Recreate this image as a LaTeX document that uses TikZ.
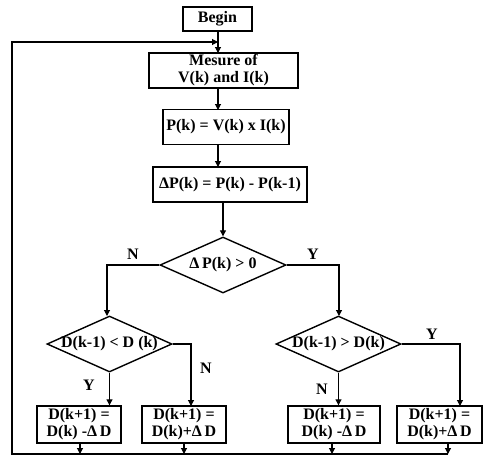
\documentclass[tikz,border=0pt]{standalone}
\usepackage{fontspec}
\setmainfont{Liberation Serif}
\usetikzlibrary{shapes.geometric,arrows.meta}
\begin{document}
\begin{tikzpicture}[x=1pt,y=-1pt,
  font=\bfseries\fontsize{16}{17}\selectfont,
  box/.style={draw,line width=1.4pt,inner sep=0pt,align=center},
  dia/.style={draw,line width=1.4pt,diamond,inner sep=0pt},
  conn/.style={line width=1.1pt,-{Triangle[length=6pt,width=6pt]}},
  lbl/.style={inner sep=0pt}]
\useasboundingbox (0,0) rectangle (492,461);
\node[box,minimum width=69pt,minimum height=24pt] (begin) at (217.5,19) {Begin};
\node[box,minimum width=149pt,minimum height=35pt] (mes) at (223.5,70.5) {Mesure of\\V(k) and I(k)};
\node[box,minimum width=126pt,minimum height=35pt] (p) at (226,127) {P(k) = V(k) x I(k)};
\node[box,minimum width=154pt,minimum height=35pt] (dp) at (230,184.5) {ΔP(k) = P(k) - P(k-1)};
\node[dia,minimum width=126pt,minimum height=56pt] (d1) at (223,265) {};
\node[lbl] (t1) at (d1) {Δ\,P(k) > 0};
\node[dia,minimum width=125pt,minimum height=56pt] (dl) at (109.5,344) {};
\node[lbl] (tl) at (dl) {D(k-1) < D (k)};
\node[dia,minimum width=125pt,minimum height=56pt] (dr) at (338.5,344) {};
\node[lbl] (tr) at (dr) {D(k-1) > D(k)};
\node[box,minimum width=84pt,minimum height=37pt] (b1) at (79,424.5) {D(k+1) =\\D(k) -Δ\,D};
\node[box,minimum width=84pt,minimum height=37pt] (b2) at (184,424.5) {D(k+1) =\\D(k)+Δ\,D};
\node[box,minimum width=92pt,minimum height=37pt] (b3) at (334,424.5) {D(k+1) =\\D(k) -Δ\,D};
\node[box,minimum width=85pt,minimum height=37pt] (b4) at (439.5,424.5) {D(k+1) =\\D(k)+Δ\,D};
% labels
\node[lbl] (ln1) at (133,254) {N};
\node[lbl] (ly1) at (313,254) {Y};
\node[lbl] (lyl) at (89,385) {Y};
\node[lbl] (lnl) at (206,368) {N};
\node[lbl] (lyr) at (432,334) {Y};
\node[lbl] (lnr) at (322,389) {N};
% coordinates
\coordinate (fbtop) at (12,42);
\coordinate (fbbot) at (12,454);
\coordinate (join) at (218,42);
\coordinate (e1) at (80,454);
\coordinate (e2) at (184,454);
\coordinate (e3) at (332,454);
\coordinate (e4) at (448,454);
% main flow
\draw[conn] (218,31) -- (218,53);
\draw[conn] (218,88) -- (218,110);
\draw[conn] (218,145) -- (218,167);
\draw[conn] (dp.south -| d1.north) -- (d1.north);
\draw[conn] (d1.west) -| (107,316);
\draw[conn] (d1.east) -| (339,316);
\draw[conn] (dl.south) -- (dl.south |- b1.north);
\draw[conn] (dl.east) -| (191,406);
\draw[conn] (dr.south) -- (dr.south |- b3.north);
\draw[conn] (dr.east) -| (460,406);
% exits
\draw[conn] (e1 |- b1.south) -- (e1);
\draw[conn] (e2 |- b2.south) -- (e2);
\draw[conn] (e3 |- b3.south) -- (e3);
\draw[conn] (e4 |- b4.south) -- (e4);
% feedback
\draw[conn] (e4) -- (fbbot) -- (fbtop) -- (join);
\end{tikzpicture}
\end{document}
